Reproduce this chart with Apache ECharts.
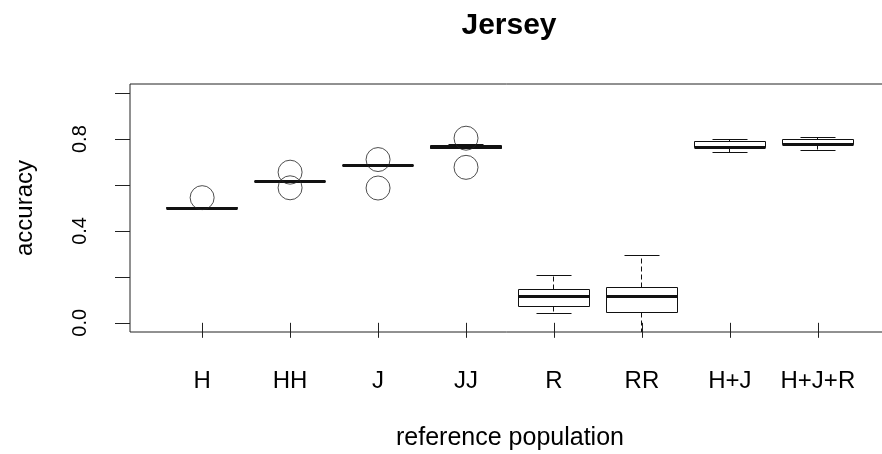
<!DOCTYPE html>
<html>
<head>
<meta charset="utf-8">
<title>Jersey</title>
<script src="https://cdn.jsdelivr.net/npm/echarts@6/dist/echarts.min.js"></script>
<style>
  html, body { margin: 0; padding: 0; background: #fff; }
  #chart { width: 882px; height: 454px; }
</style>
</head>
<body>
<div id="chart"></div>
<script>
// Reference populations along the x axis
const categories = ['H', 'HH', 'J', 'JJ', 'R', 'RR', 'H+J', 'H+J+R'];

// Five-number summaries of accuracy per reference population
const whiskerLow    = [0.494, 0.612, 0.684, 0.758, 0.039, -0.06, 0.742, 0.752];
const lowerQuartile = [0.498, 0.614, 0.685, 0.760, 0.071, 0.045, 0.763, 0.775];
const medians       = [0.500, 0.615, 0.686, 0.762, 0.115, 0.114, 0.765, 0.777];
const upperQuartile = [0.501, 0.616, 0.687, 0.773, 0.144, 0.154, 0.789, 0.798];
const whiskerHigh   = [0.502, 0.617, 0.688, 0.775, 0.205, 0.293, 0.797, 0.807];

// Outlying points: index of the population and the accuracy value
const outlierGroup  = [0, 1, 1, 2, 2, 3, 3];
const outlierValues = [0.545, 0.656, 0.588, 0.711, 0.587, 0.804, 0.677];

// Axis ticks and labelled tick values
const yTicks = [0, 0.2, 0.4, 0.6, 0.8, 1.0];
const yTickLabels = [0, 0.4, 0.8];
const xPositions = categories.map((c, i) => i + 1);

const FONT = '"Liberation Sans", Arial, Helvetica, sans-serif';
const INK = '#111';

const boxData = categories.map((c, i) => [
  i + 1, whiskerLow[i], lowerQuartile[i], medians[i], upperQuartile[i], whiskerHigh[i]
]);
const outlierData = outlierGroup.map((g, k) => [g + 1, outlierValues[k]]);

function snap(p) { return Math.round(p - 0.5) + 0.5; }

function renderBox(params, api) {
  const x = api.value(0);
  const halfBox = api.size([0.4, 0])[0];
  const halfCap = api.size([0.2, 0])[0];
  const cx = api.coord([x, 0])[0];
  const yOf = v => snap(api.coord([x, v])[1]);
  const px = snap(cx);
  const yLo = yOf(api.value(1));
  const yQ1 = yOf(api.value(2));
  const yMed = yOf(api.value(3));
  const yQ3 = yOf(api.value(4));
  const yHi = yOf(api.value(5));
  const left = snap(cx - halfBox);
  const right = snap(cx + halfBox);
  const capL = snap(cx - halfCap);
  const capR = snap(cx + halfCap);
  const thin = { stroke: INK, lineWidth: 1 };
  const dashed = { stroke: INK, lineWidth: 1, lineDash: [5, 3] };
  return {
    type: 'group',
    children: [
      { type: 'line', shape: { x1: px, y1: yQ3, x2: px, y2: yHi }, style: dashed },
      { type: 'line', shape: { x1: px, y1: yQ1, x2: px, y2: yLo }, style: dashed },
      { type: 'line', shape: { x1: capL, y1: yHi, x2: capR, y2: yHi }, style: thin },
      { type: 'line', shape: { x1: capL, y1: yLo, x2: capR, y2: yLo }, style: thin },
      { type: 'rect', shape: { x: left, y: yQ3, width: right - left, height: yQ1 - yQ3 },
        style: { fill: 'none', stroke: INK, lineWidth: 1 } },
      { type: 'line', shape: { x1: left, y1: yMed, x2: right, y2: yMed },
        style: { stroke: INK, lineWidth: 3 } }
    ]
  };
}

const chart = echarts.init(document.getElementById('chart'), null, { renderer: 'canvas' });

chart.setOption({
  animation: false,
  backgroundColor: '#fff',
  textStyle: { fontFamily: FONT, color: '#000' },
  graphic: [{
    type: 'text',
    x: 509,
    y: 26,
    style: {
      text: 'Jersey',
      font: 'bold 30px ' + FONT,
      fill: '#000',
      textAlign: 'center',
      textVerticalAlign: 'middle'
    }
  }],
  grid: {
    left: 130,
    top: 84,
    width: 760,
    height: 248,
    outerBoundsMode: 'none',
    containLabel: false,
    show: true,
    borderColor: '#222',
    borderWidth: 1,
    backgroundColor: 'transparent'
  },
  xAxis: {
    type: 'value',
    min: 0.18,
    max: 8.82,
    axisLine: { show: false },
    splitLine: { show: false },
    axisTick: {
      show: true,
      customValues: xPositions,
      length: 15,
      lineStyle: { color: '#222', width: 1 }
    },
    axisLabel: {
      customValues: xPositions,
      formatter: v => categories[Math.round(v) - 1],
      fontSize: 24,
      fontFamily: FONT,
      color: '#000',
      margin: 37
    },
    name: 'reference population',
    nameLocation: 'middle',
    nameGap: 94,
    nameTextStyle: { fontSize: 25, fontFamily: FONT, color: '#000' }
  },
  yAxis: {
    type: 'value',
    min: -0.04,
    max: 1.04,
    axisLine: { show: false },
    splitLine: { show: false },
    axisTick: {
      show: true,
      customValues: yTicks,
      length: 15,
      lineStyle: { color: '#222', width: 1 }
    },
    axisLabel: {
      customValues: yTickLabels,
      formatter: v => v.toFixed(1),
      rotate: 90,
      fontSize: 20,
      fontFamily: FONT,
      color: '#000',
      margin: 40
    },
    name: 'accuracy',
    nameLocation: 'middle',
    nameGap: 93,
    nameTextStyle: { fontSize: 24, fontFamily: FONT, color: '#000' }
  },
  series: [
    {
      type: 'custom',
      clip: true,
      silent: true,
      renderItem: renderBox,
      encode: { x: 0, y: [1, 2, 3, 4, 5] },
      data: boxData,
      z: 2
    },
    {
      type: 'scatter',
      silent: true,
      symbol: 'circle',
      symbolSize: 24,
      itemStyle: { color: 'rgba(0,0,0,0)', borderColor: '#222', borderWidth: 1 },
      data: outlierData,
      z: 3
    }
  ]
});
</script>
</body>
</html>
